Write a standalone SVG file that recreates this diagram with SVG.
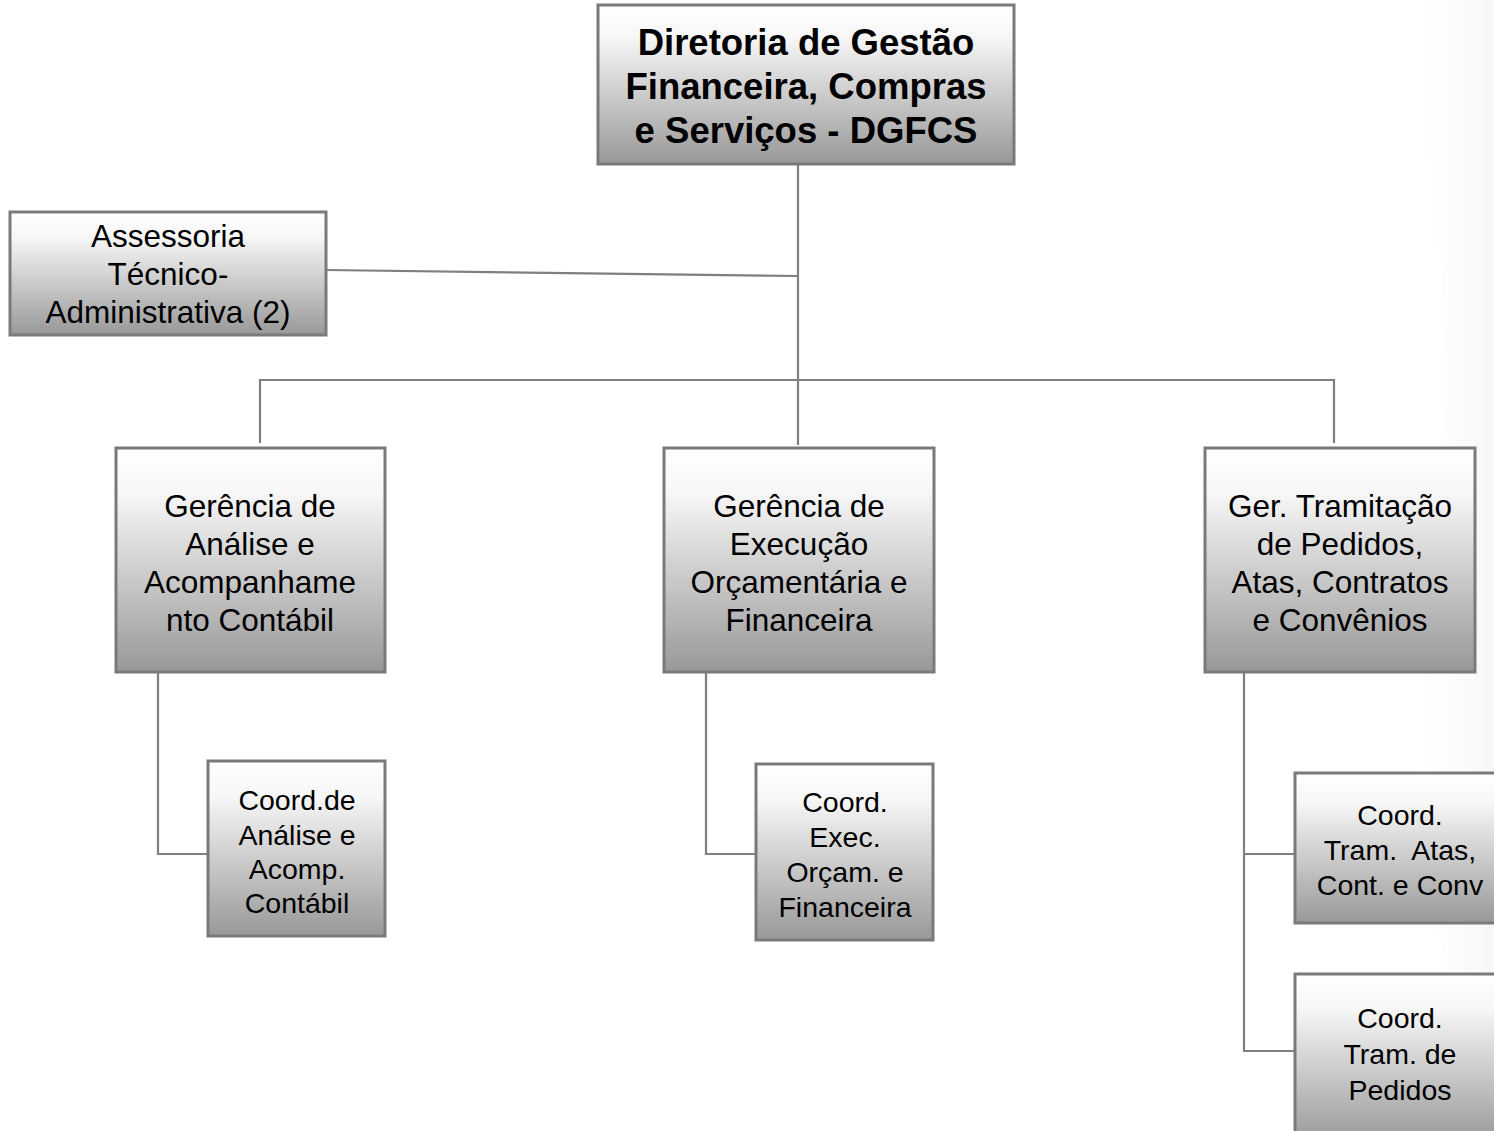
<svg xmlns="http://www.w3.org/2000/svg" width="1494" height="1131" viewBox="0 0 1494 1131">
<style>
.box{fill:url(#g);stroke:#7a7a7a;stroke-width:3}
.ln{fill:none;stroke:#7f7f7f;stroke-width:2.2}
text{font-family:"Liberation Sans",Arial,sans-serif;fill:#000;text-anchor:middle}
.t{font-size:36.5px;font-weight:bold}
.m{font-size:31.5px}
.s{font-size:28.5px}
</style>
<defs>
<linearGradient id="g" x1="0" y1="0" x2="0" y2="1">
<stop offset="0" stop-color="#ffffff"/>
<stop offset="0.2" stop-color="#f7f7f7"/>
<stop offset="1" stop-color="#989898"/>
</linearGradient>
<linearGradient id="bg" x1="0" y1="0" x2="1" y2="0">
<stop offset="0" stop-color="#ffffff" stop-opacity="0"/>
<stop offset="1" stop-color="#ececec" stop-opacity="0.45"/>
</linearGradient>
</defs>
<rect width="1494" height="1131" fill="#fff"/>
<path d="M1494,0 L1400,0 Q1470,300 1430,600 Q1400,900 1494,1131 Z" fill="url(#bg)"/>
<g id="connectors">
<polyline class="ln" points="798,164 798,445"/>
<line class="ln" x1="326" y1="270" x2="798" y2="276"/>
<polyline class="ln" points="260,443 260,380 1334,380 1334,443"/>
<polyline class="ln" points="158,672 158,854 208,854"/>
<polyline class="ln" points="706,672 706,854 757,854"/>
<polyline class="ln" points="1244,672 1244,1051 1295,1051"/>
<line class="ln" x1="1244" y1="854" x2="1295" y2="854"/>
</g>
<g id="dgfcs">
<rect class="box" x="598" y="5" width="416" height="159"/>
<text class="t" x="806" y="55">Diretoria de Gestão</text>
<text class="t" x="806" y="99">Financeira, Compras</text>
<text class="t" x="806" y="143">e Serviços - DGFCS</text>
</g>
<g id="assessoria">
<rect class="box" x="10" y="212" width="316" height="123"/>
<text class="m" x="168" y="247">Assessoria</text>
<text class="m" x="168" y="285">Técnico-</text>
<text class="m" x="168" y="323">Administrativa (2)</text>
</g>
<g id="ger-analise">
<rect class="box" x="116" y="448" width="269" height="224"/>
<text class="m" x="250" y="517">Gerência de</text>
<text class="m" x="250" y="555">Análise e</text>
<text class="m" x="250" y="593">Acompanhame</text>
<text class="m" x="250" y="631">nto Contábil</text>
</g>
<g id="ger-execucao">
<rect class="box" x="664" y="448" width="270" height="224"/>
<text class="m" x="799" y="517">Gerência de</text>
<text class="m" x="799" y="555">Execução</text>
<text class="m" x="799" y="593">Orçamentária e</text>
<text class="m" x="799" y="631">Financeira</text>
</g>
<g id="ger-tramitacao">
<rect class="box" x="1205" y="448" width="270" height="224"/>
<text class="m" x="1340" y="517">Ger. Tramitação</text>
<text class="m" x="1340" y="555">de Pedidos,</text>
<text class="m" x="1340" y="593">Atas, Contratos</text>
<text class="m" x="1340" y="631">e Convênios</text>
</g>
<g id="coord-analise">
<rect class="box" x="208" y="761" width="177" height="175"/>
<text class="s" x="297" y="810">Coord.de</text>
<text class="s" x="297" y="845">Análise e</text>
<text class="s" x="297" y="879">Acomp.</text>
<text class="s" x="297" y="913">Contábil</text>
</g>
<g id="coord-execucao">
<rect class="box" x="756" y="764" width="177" height="176"/>
<text class="s" x="845" y="812">Coord.</text>
<text class="s" x="845" y="847">Exec.</text>
<text class="s" x="845" y="882">Orçam. e</text>
<text class="s" x="845" y="917">Financeira</text>
</g>
<g id="coord-atas">
<rect class="box" x="1295" y="773" width="212" height="150"/>
<text class="s" x="1400" y="825">Coord.</text>
<text class="s" x="1400" y="860" xml:space="preserve">Tram.  Atas,</text>
<text class="s" x="1400" y="895">Cont. e Conv</text>
</g>
<g id="coord-pedidos">
<rect class="box" x="1295" y="974" width="212" height="170"/>
<text class="s" x="1400" y="1028">Coord.</text>
<text class="s" x="1400" y="1064">Tram. de</text>
<text class="s" x="1400" y="1100">Pedidos</text>
</g>
</svg>
